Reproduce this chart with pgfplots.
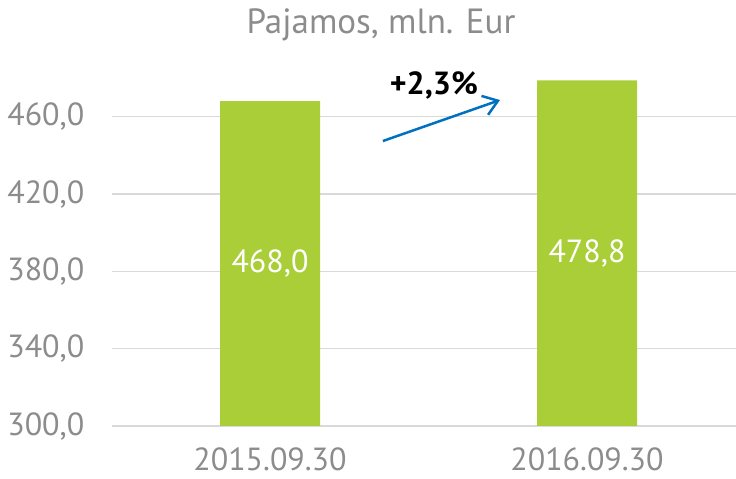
\documentclass[border=0pt]{standalone}
\usepackage{fontspec}
\setmainfont{PT Sans}
\usepackage{pgfplots}
\pgfplotsset{compat=1.18}
\usetikzlibrary{arrows.meta}
\definecolor{barg}{RGB}{170,206,56}
\definecolor{tickg}{RGB}{140,140,140}
\definecolor{gridg}{RGB}{217,217,217}
\definecolor{arrb}{RGB}{0,112,192}
\begin{document}
\begin{tikzpicture}[x=1pt,y=1pt]
\useasboundingbox (0,0) rectangle (736,479);
\node[anchor=base, text=tickg, font=\fontsize{35}{40}\selectfont, inner sep=0pt] at (381,445) {Pajamos, mln. Eur};
\begin{axis}[
 at={(111.5pt,53pt)}, anchor=south west, scale only axis,
 width=624.5pt, height=348pt,
 xmin=-0.5, xmax=1.47, ymin=300, ymax=480,
 ytick={300,340,380,420,460},
 xtick={0,1}, xticklabels={2015.09.30,2016.09.30},
 axis line style={draw=none},
 major tick length=0pt,
 ymajorgrids, grid style={gridg, line width=1.5pt},
 ticklabel style={text=tickg, font=\fontsize{32}{38}\selectfont, inner sep=0pt},
 yticklabel style={/pgf/number format/.cd, fixed, fixed zerofill, precision=1, use comma, 1000 sep={}, assume math mode=true},
 yticklabel shift=27pt,
 xticklabel shift=22pt,
 ybar, bar width=100pt,
 clip mode=individual,
]
\addplot[fill=barg, draw=none] coordinates {(0,468.0) (1,478.8)};
\node[text=white, font=\fontsize{32}{38}\selectfont] at (axis cs:0,384) {468,0};
\node[text=white, font=\fontsize{32}{38}\selectfont] at (axis cs:1,389.4) {478,8};
\draw[arrb, line width=2.5pt, -{Straight Barb[length=14pt, width=20pt, line width=2.5pt]}] (axis cs:0.356,447.4) -- (axis cs:0.7256,468.6);
\node[font=\bfseries\fontsize{32}{38}\selectfont] at (axis cs:0.517,476.4) {+2,3\%};
\end{axis}
\end{tikzpicture}
\end{document}
